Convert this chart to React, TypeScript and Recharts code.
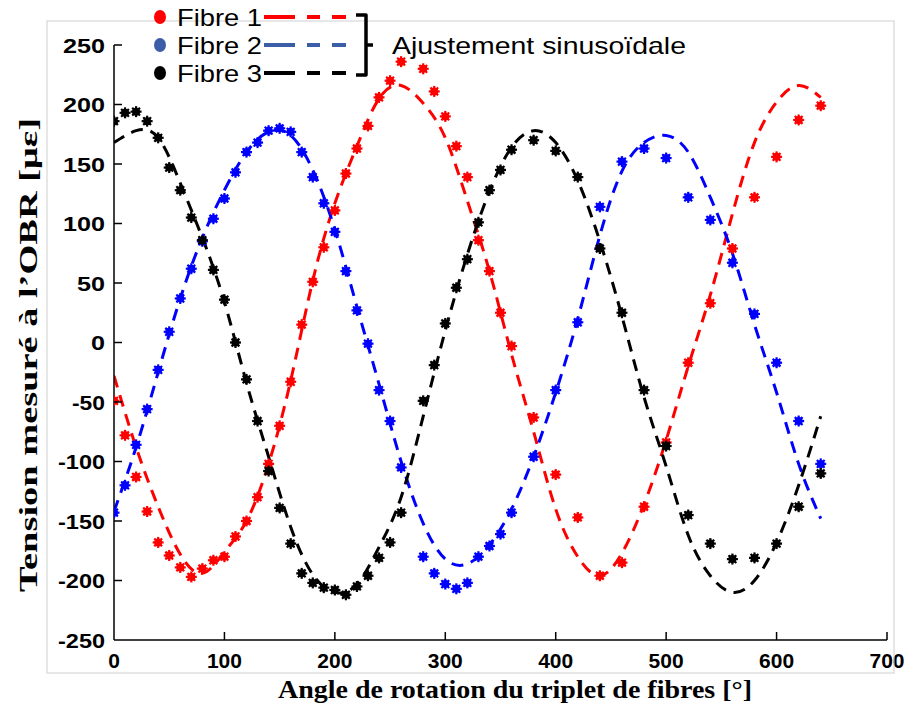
import React from "react";
import { ComposedChart, Line, Scatter, XAxis, YAxis } from "recharts";

// measured angles (deg)
const angles = [
  0, 10, 20, 30, 40, 50, 60, 70, 80, 90, 100, 110, 120, 130, 140, 150, 160, 170, 180, 190,
  200, 210, 220, 230, 240, 250, 260, 280, 290, 300, 310, 320, 330, 340, 350, 360,
  380, 400, 420, 440, 460, 480, 500, 520, 540, 560, 580, 600, 620, 640,
];

const fibre1 = [
  -49, -78, -113, -142, -168, -179, -189, -197, -190, -183, -180, -163, -150, -130, -102, -70, -33, 15, 51, 80,
  111, 142, 163, 182, 206, 220, 236, 230, 211, 190, 165, 139, 86, 60, 25, -3,
  -63, -111, -147, -196, -185, -138, -84, -17, 33, 79, 122, 156, 187, 199,
];

const fibre2 = [
  -143, -120, -86, -56, -23, 9, 37, 62, 85, 104, 121, 143, 160, 168, 178, 180, 177, 160, 139, 117,
  93, 60, 27, -1, -40, -66, -105, -180, -194, -203, -207, -202, -180, -171, -161, -143,
  -96, -40, 17, 114, 152, 163, 155, 122, 103, 67, 24, -17, -66, -102,
];

const fibre3 = [
  186, 193, 194, 186, 172, 147, 128, 105, 86, 61, 36, 0, -31, -66, -108, -139, -169, -194, -202, -206,
  -208, -212, -205, -196, -181, -168, -143, -49, -19, 16, 46, 70, 101, 128, 145, 162,
  170, 161, 139, 79, 25, -40, -87, -145, -169, -182, -181, -169, -138, -110,
];

// sinusoidal fits
const fitAngles = [
  0, 20, 40, 60, 80, 100, 120, 140, 160, 180, 200, 220, 240, 260, 280, 300, 320,
  340, 360, 380, 400, 420, 440, 460, 480, 500, 520, 540, 560, 580, 600, 620, 640,
];
const fit1 = [
  -28, -88, -138, -178, -194, -176, -150, -102, -32, 52, 117, 165, 205, 216, 201, 172, 119,
  60, -10, -75, -140, -180, -196, -177, -136, -82, -20, 40, 108, 168, 202, 216, 206,
];
const fit2 = [
  -142, -88, -25, 37, 88, 128, 160, 177, 174, 145, 95, 30, -35, -100, -152, -182, -186,
  -170, -140, -96, -42, 20, 90, 144, 168, 174, 160, 122, 75, 15, -42, -102, -148,
];
const fit3 = [
  168, 178, 172, 134, 88, 34, -34, -96, -155, -195, -210, -203, -172, -130, -62, 10, 74,
  127, 164, 178, 168, 136, 85, 22, -46, -104, -162, -196, -210, -200, -168, -120, -62,
];

const xTicks = [0, 100, 200, 300, 400, 500, 600, 700];
const yTicks = [-250, -200, -150, -100, -50, 0, 50, 100, 150, 200, 250];

const toPoints = (xs: number[], ys: number[]) => xs.map((x, i) => ({ x, y: ys[i] }));

const SANS = '"Liberation Sans", Arial, sans-serif';
const SERIF = '"Liberation Serif", "Times New Roman", serif';

const starDot = (color: string) => (props: any) => {
  const { cx, cy } = props;
  if (cx == null || cy == null) return <g />;
  const spikes = [0, 45, 90, 135];
  return (
    <g>
      <circle cx={cx} cy={cy} r={4} fill={color} />
      {spikes.map((a) => {
        const r = (a * Math.PI) / 180;
        const dx = Math.cos(r) * 5.5;
        const dy = Math.sin(r) * 5.5;
        return (
          <line key={a} x1={cx - dx} y1={cy - dy} x2={cx + dx} y2={cy + dy} stroke={color} strokeWidth={2.2} />
        );
      })}
    </g>
  );
};

const YTick = (props: any) => {
  const { x, y, payload } = props;
  const label = String(payload.value);
  const axisX = x + 9;
  const len = label.replace("-", "").length * 14 + (label.startsWith("-") ? 5 : 0);
  return (
    <g>
      {payload.value !== -250 && (
        <line x1={axisX} y1={y} x2={axisX + 8} y2={y} stroke="#000" strokeWidth={1.5} />
      )}
      <text x={x} y={y + 7.5} textAnchor="end" fontFamily={SANS} fontWeight="bold" fontSize={21}
        textLength={len} lengthAdjust="spacingAndGlyphs" fill="#000">
        {label}
      </text>
    </g>
  );
};

const XTick = (props: any) => {
  const { x, y, payload } = props;
  return (
    <g>
      {payload.value !== 0 && <line x1={x} y1={y} x2={x} y2={y - 8} stroke="#000" strokeWidth={1.5} />}
      <text x={x} y={y + 28} textAnchor="middle" fontFamily={SANS} fontWeight="bold" fontSize={21} fill="#000">
        {payload.value}
      </text>
    </g>
  );
};

const legendRows = [
  { label: "Fibre 1", dot: "#ff0000", dash: "#ff0000", y: 17 },
  { label: "Fibre 2", dot: "#3b5ea6", dash: "#3b5ea6", y: 45 },
  { label: "Fibre 3", dot: "#000000", dash: "#000000", y: 73 },
];

export default function App() {
  return (
    <div style={{ position: "absolute", left: 0, top: 0, width: 916, height: 704, background: "#fff" }}>
      <ComposedChart width={916} height={704} margin={{ top: 45, right: 29, bottom: 0, left: 0 }}>
        <XAxis
          type="number"
          dataKey="x"
          domain={[0, 700]}
          ticks={xTicks}
          allowDataOverflow
          height={64}
          tickSize={0}
          tickMargin={0}
          tickLine={false}
          axisLine={{ stroke: "#000", strokeWidth: 1.5 }}
          tick={<XTick />}
        />
        <YAxis
          type="number"
          dataKey="y"
          domain={[-250, 250]}
          ticks={yTicks}
          allowDataOverflow
          width={114}
          tickSize={0}
          tickMargin={9}
          tickLine={false}
          axisLine={{ stroke: "#000", strokeWidth: 1.5 }}
          tick={<YTick />}
        />
        <Line data={toPoints(fitAngles, fit1)} dataKey="y" type="natural" stroke="#ff0000" strokeWidth={3}
          strokeDasharray="12 8" dot={false} isAnimationActive={false} />
        <Line data={toPoints(fitAngles, fit2)} dataKey="y" type="natural" stroke="#0000ff" strokeWidth={3}
          strokeDasharray="12 8" dot={false} isAnimationActive={false} />
        <Line data={toPoints(fitAngles, fit3)} dataKey="y" type="natural" stroke="#000000" strokeWidth={3}
          strokeDasharray="12 8" dot={false} isAnimationActive={false} />
        <Scatter data={toPoints(angles, fibre1)} fill="#ff0000" shape={starDot("#ff0000")} isAnimationActive={false} />
        <Scatter data={toPoints(angles, fibre2)} fill="#0000ff" shape={starDot("#0000ff")} isAnimationActive={false} />
        <Scatter data={toPoints(angles, fibre3)} fill="#000000" shape={starDot("#000000")} isAnimationActive={false} />
      </ComposedChart>

      <svg width={916} height={704} style={{ position: "absolute", left: 0, top: 0, pointerEvents: "none" }}>
        <rect x={47} y={21} width={847} height={652} fill="none" stroke="#cfcfcf" strokeWidth={1} />
        {legendRows.map((r) => (
          <g key={r.label}>
            <ellipse cx={160} cy={r.y} rx={6} ry={7} fill={r.dot} />
            <text x={177} y={r.y + 8.5} fontFamily={SANS} fontSize={24} textLength={85}
              lengthAdjust="spacingAndGlyphs" fill="#000">
              {r.label}
            </text>
            <line x1={264} y1={r.y} x2={346} y2={r.y} stroke={r.dash} strokeWidth={4}
              strokeDasharray="31 12 13 12 14" />
          </g>
        ))}
        <path d="M356 15 L366 15 L366 75 L356 75 M366 45 L373 45" fill="none" stroke="#000"
          strokeWidth={3.5} strokeLinejoin="round" />
        <text x={392} y={53.5} fontFamily={SANS} fontSize={24} textLength={294}
          lengthAdjust="spacingAndGlyphs" fill="#000">
          Ajustement sinusoïdale
        </text>
        <text x={515} y={698} textAnchor="middle" fontFamily={SERIF} fontWeight="bold" fontSize={26}
          textLength={474} lengthAdjust="spacingAndGlyphs" fill="#000">
          Angle de rotation du triplet de fibres [°]
        </text>
        <text x={37} y={355} transform="rotate(-90 37 355)" textAnchor="middle" fontFamily={SERIF}
          fontWeight="bold" fontSize={26} textLength={474} lengthAdjust="spacingAndGlyphs" fill="#000">
          Tension mesuré à l’OBR [με]
        </text>
      </svg>
    </div>
  );
}
